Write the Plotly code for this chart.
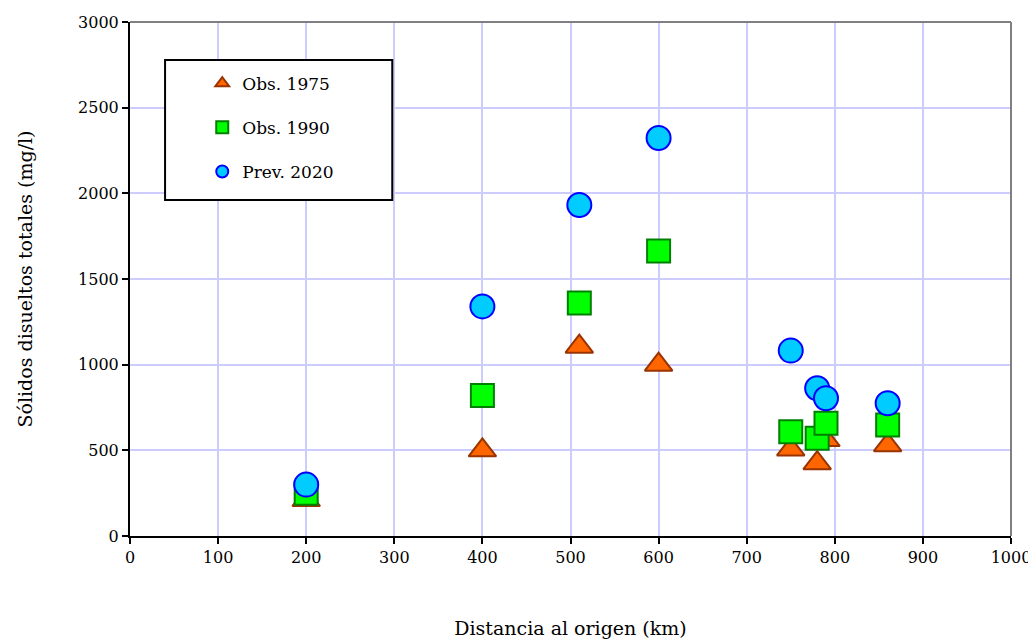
import plotly.graph_objects as go

dist = [200, 400, 510, 600, 750, 780, 790, 860]
obs1975 = [210, 500, 1105, 1000, 505, 425, 560, 530]
obs1990 = [250, 820, 1360, 1663, 609, 570, 658, 648]
prev2020 = [300, 1340, 1932, 2323, 1082, 862, 804, 775]

serif = "DejaVu Serif"
fig = go.Figure()
fig.add_trace(go.Scatter(x=dist, y=obs1975, mode="markers", name="Obs. 1975",
    marker=dict(symbol="triangle-up", size=24, color="#ff6600", line=dict(color="#993300", width=2))))
fig.add_trace(go.Scatter(x=dist, y=obs1990, mode="markers", name="Obs. 1990",
    marker=dict(symbol="square", size=23, color="#00ff00", line=dict(color="#008000", width=2))))
fig.add_trace(go.Scatter(x=dist, y=prev2020, mode="markers", name="Prev. 2020",
    marker=dict(symbol="circle", size=24, color="#00ccff", line=dict(color="#0000ff", width=2))))

fig.add_shape(type="rect", xref="paper", yref="paper", x0=0.0398, x1=0.2977, y0=0.6537, y1=0.926,
              line=dict(color="black", width=2), fillcolor="white", layer="above")
fig.add_shape(type="line", xref="paper", yref="paper", x0=0, x1=1, y0=1, y1=1,
              line=dict(color="#808080", width=2), layer="above")
fig.add_shape(type="line", xref="paper", yref="paper", x0=1, x1=1, y0=0, y1=1,
              line=dict(color="#808080", width=2), layer="above")

fig.update_layout(
    width=1028, height=631,
    margin=dict(l=122, r=25, t=14, b=103),
    paper_bgcolor="white", plot_bgcolor="white",
    font=dict(family=serif, color="black"),
    showlegend=True,
    legend=dict(x=0.082, y=0.915, xanchor="left", yanchor="top", bgcolor="rgba(0,0,0,0)",
                font=dict(family=serif, size=17), tracegroupgap=19, traceorder="grouped",
                itemsizing="constant"),
    xaxis=dict(range=[0, 1000], dtick=100, tick0=0, showgrid=True, gridcolor="#ccccff", gridwidth=2,
               showline=True, linecolor="black", linewidth=2, ticks="outside", ticklen=6, tickwidth=2,
               tickcolor="black", tickfont=dict(family=serif, size=16), zeroline=False, automargin=False,
               title=dict(text="Distancia al origen (km)", font=dict(family=serif, size=19), standoff=55)),
    yaxis=dict(range=[0, 3000], dtick=500, tick0=0, showgrid=True, gridcolor="#ccccff", gridwidth=2,
               showline=True, linecolor="black", linewidth=2, ticks="outside", ticklen=6, tickwidth=2,
               tickcolor="black", tickfont=dict(family=serif, size=16), zeroline=False, automargin=False,
               title=dict(text="Sólidos disueltos totales (mg/l)", font=dict(family=serif, size=19), standoff=40)),
)
for i, t in enumerate(fig.data):
    t.legendgroup = str(i)
fig.write_html("out.html")
